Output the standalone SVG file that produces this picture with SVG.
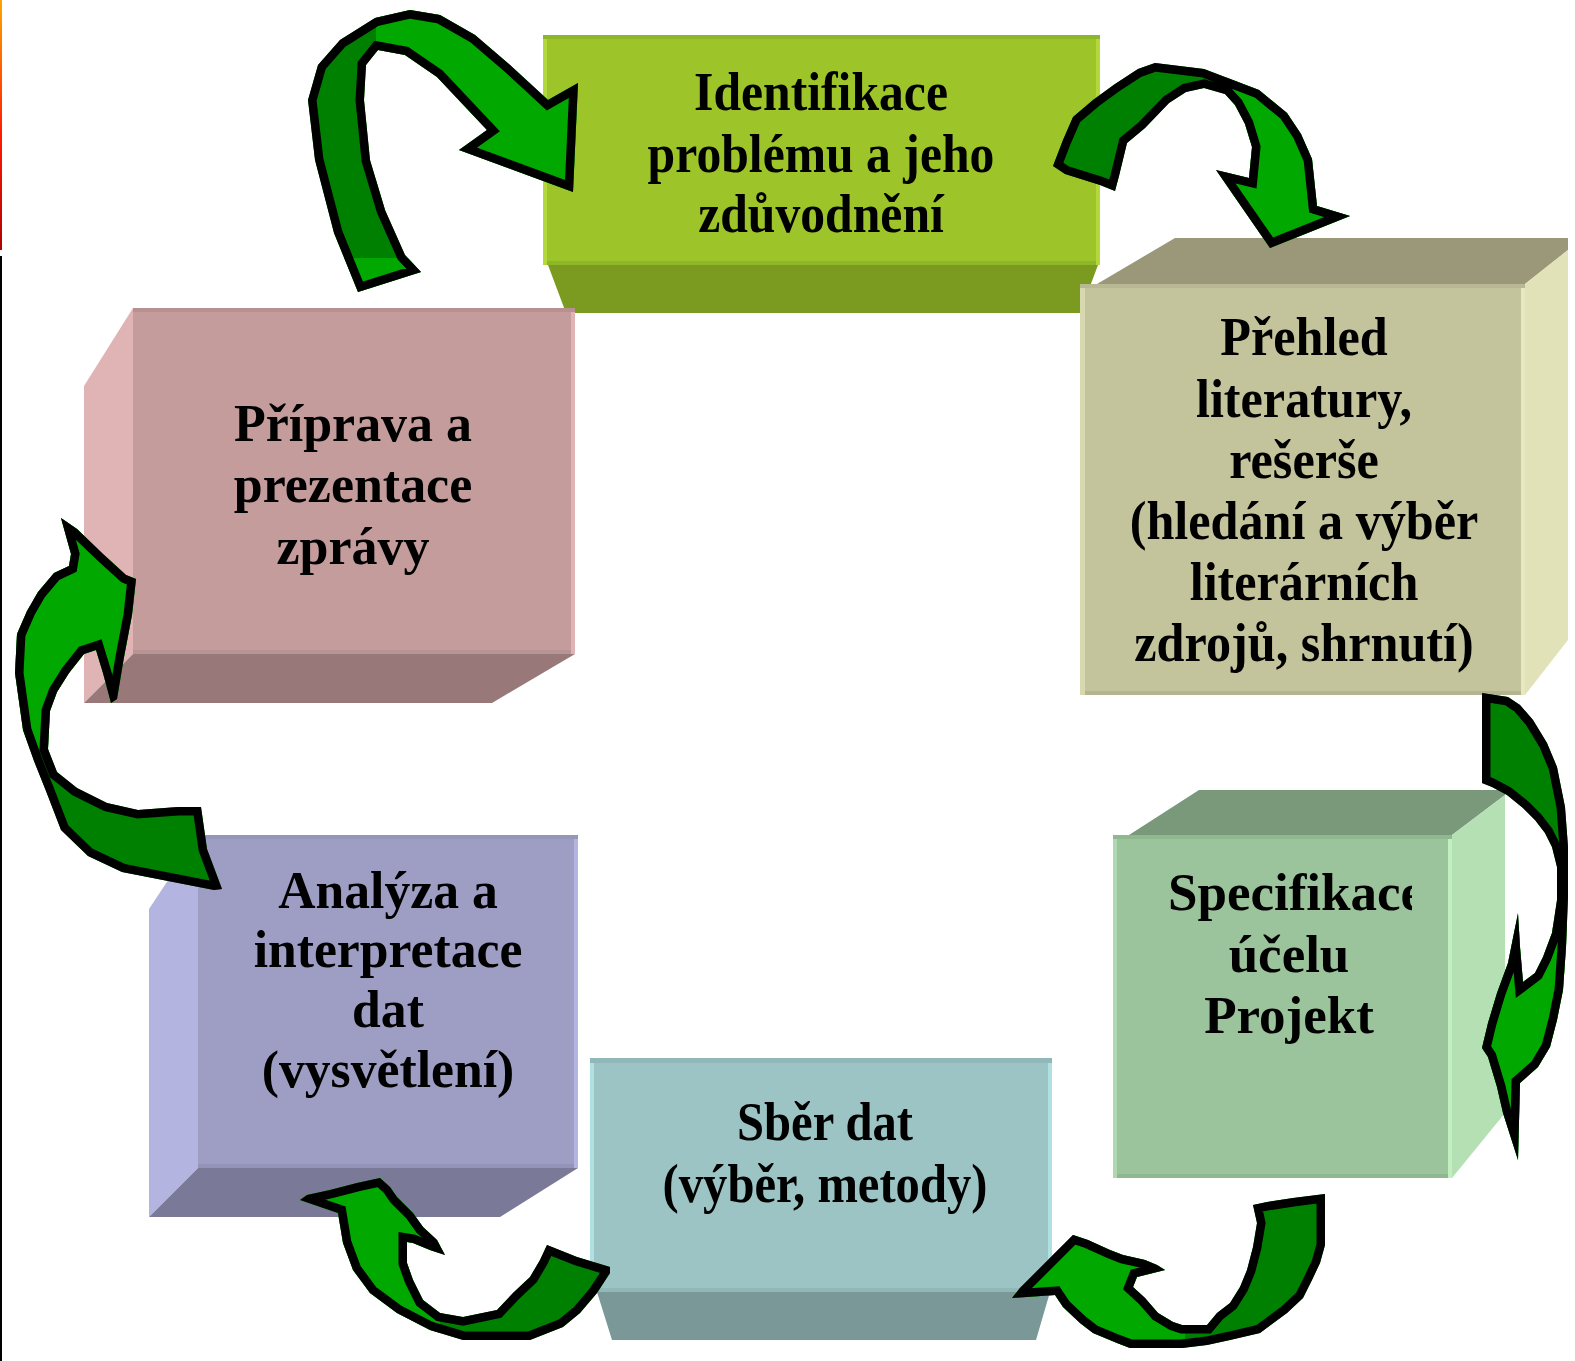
<svg xmlns="http://www.w3.org/2000/svg" xmlns:xlink="http://www.w3.org/1999/xlink" width="1575" height="1361" viewBox="0 0 1575 1361">
<style>
.t{font-family:"Liberation Serif","DejaVu Serif",serif;font-weight:bold;fill:#000;text-anchor:middle}
.dk{fill:#008000}
.lt{fill:#00a800}
.ol{fill:none;stroke:#000;stroke-width:17;stroke-linejoin:miter}
</style>
<defs>
<linearGradient id="edge" x1="0" y1="0" x2="0" y2="1">
<stop offset="0" stop-color="#ffa500"/>
<stop offset="0.55" stop-color="#ff1a00"/>
<stop offset="1" stop-color="#b00000"/>
</linearGradient>
<path id="pA" d="M358,292 L334,233 L315,160 L308,100 L318,65 L340,40 L375,18 L410,10 L440,15 L475,35 L510,65 L548,100 L578,83 L573,192 L459,150 L487,130 L437,77 L405,55 L378,50 L366,65 L364,100 L370,160 L385,210 L405,255 L421,272 Z"/>
<path id="pB" d="M1053,166 L1063,140 L1073,117 L1093,100 L1115,84 L1138,69 L1155,63 L1204,69 L1225,77 L1259,90 L1287,113 L1301,134 L1312,159 L1317,206 L1350,216 L1270,248 L1216,170 L1249,178 L1252,147 L1245,124 L1235,105 L1225,94 L1204,88 L1186,92 L1169,103 L1145,128 L1127,143 L1119,176 L1115,191 L1100,185 L1065,174 Z"/>
<path id="pC" d="M1482,693 L1508,697 L1520,705 L1533,720 L1547,743 L1557,767 L1565,807 L1568,847 L1568,897 L1566,947 L1563,990 L1557,1020 L1550,1047 L1538,1067 L1520,1083 L1518,1160 L1503,1113 L1497,1087 L1488,1057 L1482,1048 L1488,1023 L1497,993 L1508,963 L1518,913 L1520,947 L1523,982 L1535,973 L1543,957 L1552,933 L1557,900 L1557,867 L1552,847 L1545,833 L1535,820 L1523,808 L1507,795 L1492,787 L1482,783 Z"/>
<path id="pD" d="M1325,1194 L1325,1245 L1320,1263 L1312,1280 L1303,1298 L1287,1313 L1260,1333 L1230,1340 L1207,1345 L1182,1348 L1130,1348 L1117,1343 L1093,1333 L1080,1323 L1063,1307 L1055,1295 L1012,1298 L1020,1288 L1040,1268 L1060,1248 L1073,1235 L1088,1240 L1110,1250 L1123,1255 L1145,1260 L1157,1265 L1165,1270 L1137,1277 L1133,1287 L1145,1298 L1158,1313 L1173,1322 L1182,1325 L1207,1325 L1217,1313 L1230,1303 L1240,1287 L1247,1270 L1253,1247 L1257,1223 L1253,1205 L1267,1202 L1293,1198 Z"/>
<path id="pE" d="M547,1245 L577,1257 L610,1267 L610,1273 L597,1293 L580,1313 L563,1327 L530,1340 L463,1340 L430,1330 L397,1313 L370,1293 L353,1270 L343,1243 L338,1213 L300,1200 L307,1195 L330,1190 L357,1183 L380,1178 L390,1187 L397,1197 L413,1213 L423,1227 L437,1240 L445,1255 L430,1250 L413,1243 L407,1242 L407,1263 L413,1280 L423,1300 L440,1313 L463,1317 L497,1310 L513,1293 L530,1277 L540,1260 Z"/>
<path id="pF" d="M178,807 L201,807 L207,849 L222,889 L214,890 L122,872 L88,856 L61,830 L46,791 L34,761 L23,730 L15,673 L17,634 L27,611 L38,592 L54,573 L69,566 L71,554 L61,518 L77,529 L103,554 L126,575 L136,579 L132,615 L124,657 L117,699 L111,703 L103,673 L96,650 L84,654 L69,673 L57,692 L50,711 L48,749 L57,772 L77,788 L107,803 L138,810 Z"/>
<clipPath id="sA"><use xlink:href="#pA"/></clipPath>
<clipPath id="sB"><use xlink:href="#pB"/></clipPath>
<clipPath id="sC"><use xlink:href="#pC"/></clipPath>
<clipPath id="sD"><use xlink:href="#pD"/></clipPath>
<clipPath id="sE"><use xlink:href="#pE"/></clipPath>
<clipPath id="sF"><use xlink:href="#pF"/></clipPath>
<clipPath id="lA"><rect x="376" y="0" width="220" height="210"/><rect x="300" y="258" width="140" height="60"/></clipPath>
<clipPath id="lB"><rect x="1225" y="0" width="150" height="260"/></clipPath>
<clipPath id="lC"><rect x="1470" y="925" width="110" height="250"/></clipPath>
<clipPath id="lD"><rect x="1000" y="1180" width="185" height="180"/></clipPath>
<clipPath id="lE"><rect x="290" y="1170" width="150" height="180"/></clipPath>
<clipPath id="lF"><rect x="0" y="500" width="150" height="250"/></clipPath>
<clipPath id="clipSpec"><rect x="1100" y="840" width="312" height="100"/></clipPath>
</defs>

<rect x="0" y="0" width="1575" height="1361" fill="#ffffff"/>
<rect x="0" y="0" width="2" height="250" fill="url(#edge)"/>
<rect x="0" y="256" width="2" height="1105" fill="#000000"/>

<g id="node-identifikace">
<polygon points="548,265 1098,265 1080,313 566,313" fill="#7a9a20"/>
<rect x="543" y="35" width="557" height="230" fill="#9dc428"/>
<rect x="543" y="35" width="557" height="4" fill="#8db628"/>
<rect x="543" y="39" width="4" height="226" fill="#b2d83c"/>
<rect x="1096" y="39" width="4" height="226" fill="#b2d83c"/>
<rect x="547" y="261" width="549" height="4" fill="#8db628"/>
<g class="t" font-size="54" transform="translate(821,0) scale(0.92,1)">
<text x="0" y="110">Identifikace</text>
<text x="0" y="172">problému a jeho</text>
<text x="0" y="232">zdůvodnění</text>
</g>
</g>

<g id="node-prehled">
<polygon points="1097,284 1175,238 1568,238 1568,250 1525,284" fill="#9a9878"/>
<polygon points="1525,284 1568,250 1568,640 1525,695" fill="#e2e2b8"/>
<rect x="1080" y="284" width="445" height="411" fill="#c4c49c"/>
<rect x="1080" y="284" width="445" height="4" fill="#b8b894"/>
<rect x="1080" y="288" width="5" height="407" fill="#d8d8b0"/>
<rect x="1521" y="288" width="4" height="407" fill="#e8e8c0"/>
<rect x="1085" y="691" width="436" height="4" fill="#b4b490"/>
<g class="t" font-size="54" transform="translate(1304,0) scale(0.93,1)">
<text x="0" y="355">Přehled</text>
<text x="0" y="417">literatury,</text>
<text x="0" y="478">rešerše</text>
<text x="0" y="539">(hledání a výběr</text>
<text x="0" y="600">literárních</text>
<text x="0" y="661">zdrojů, shrnutí)</text>
</g>
</g>

<g id="node-specifikace">
<polygon points="1129,835 1199,790 1505,790 1505,795 1452,835" fill="#7a987a"/>
<polygon points="1452,835 1505,795 1505,1113 1452,1178" fill="#b4e0b4"/>
<rect x="1113" y="835" width="339" height="343" fill="#9cc49c"/>
<rect x="1113" y="835" width="339" height="4" fill="#90b890"/>
<rect x="1113" y="839" width="4" height="339" fill="#b0d8b0"/>
<rect x="1448" y="839" width="4" height="339" fill="#c0f0c0"/>
<rect x="1117" y="1174" width="331" height="4" fill="#90b890"/>
<g class="t" font-size="53">
<text x="1168" y="910" style="text-anchor:start" clip-path="url(#clipSpec)">Specifikace</text>
<text x="1289" y="972">účelu</text>
<text x="1289" y="1033">Projekt</text>
</g>
</g>

<g id="node-sber">
<polygon points="597,1292 1050,1292 1036,1340 612,1340" fill="#7a9898"/>
<rect x="590" y="1058" width="462" height="234" fill="#9cc4c4"/>
<rect x="590" y="1058" width="462" height="5" fill="#90b8b8"/>
<rect x="590" y="1063" width="4" height="229" fill="#b0e0e0"/>
<rect x="1048" y="1063" width="4" height="229" fill="#b0e0e0"/>
<rect x="594" y="1288" width="454" height="4" fill="#90b8b8"/>
<g class="t" font-size="54" transform="translate(825,0) scale(0.9,1)">
<text x="0" y="1140">Sběr dat</text>
<text x="0" y="1202">(výběr, metody)</text>
</g>
</g>

<g id="node-analyza">
<polygon points="149,909 198,835 198,1168 149,1217" fill="#b4b4e0"/>
<polygon points="198,1168 578,1168 500,1217 149,1217" fill="#7a7a98"/>
<rect x="198" y="835" width="380" height="333" fill="#9e9ec4"/>
<rect x="198" y="835" width="380" height="4" fill="#9696b8"/>
<rect x="574" y="839" width="4" height="329" fill="#b4b4e0"/>
<rect x="198" y="1164" width="376" height="4" fill="#9494b8"/>
<g class="t" font-size="53" transform="translate(388,0) scale(0.975,1)">
<text x="0" y="908">Analýza a</text>
<text x="0" y="967">interpretace</text>
<text x="0" y="1027">dat</text>
<text x="0" y="1087">(vysvětlení)</text>
</g>
</g>

<g id="node-priprava">
<polygon points="84,386 133,308 133,654 84,703" fill="#e0b4b4"/>
<polygon points="133,654 575,654 492,703 84,703" fill="#987878"/>
<rect x="133" y="308" width="442" height="346" fill="#c49c9c"/>
<rect x="133" y="308" width="442" height="4" fill="#b89090"/>
<rect x="571" y="312" width="4" height="342" fill="#e0b4b4"/>
<rect x="133" y="650" width="438" height="4" fill="#b89494"/>
<g class="t" font-size="53" transform="translate(353,0) scale(0.98,1)">
<text x="0" y="441">Příprava a</text>
<text x="0" y="502">prezentace</text>
<text x="0" y="564">zprávy</text>
</g>
</g>

<g id="connectors">
<g id="arrow-priprava-identifikace">
<use xlink:href="#pA" class="dk"/>
<use xlink:href="#pA" class="lt" clip-path="url(#lA)"/>
<use xlink:href="#pA" class="ol" clip-path="url(#sA)"/>
</g>
<g id="arrow-identifikace-prehled">
<use xlink:href="#pB" class="dk"/>
<use xlink:href="#pB" class="lt" clip-path="url(#lB)"/>
<use xlink:href="#pB" class="ol" clip-path="url(#sB)"/>
</g>
<g id="arrow-prehled-specifikace">
<use xlink:href="#pC" class="dk"/>
<use xlink:href="#pC" class="lt" clip-path="url(#lC)"/>
<use xlink:href="#pC" class="ol" clip-path="url(#sC)"/>
</g>
<g id="arrow-specifikace-sber">
<use xlink:href="#pD" class="dk"/>
<use xlink:href="#pD" class="lt" clip-path="url(#lD)"/>
<use xlink:href="#pD" class="ol" clip-path="url(#sD)"/>
</g>
<g id="arrow-sber-analyza">
<use xlink:href="#pE" class="dk"/>
<use xlink:href="#pE" class="lt" clip-path="url(#lE)"/>
<use xlink:href="#pE" class="ol" clip-path="url(#sE)"/>
</g>
<g id="arrow-analyza-priprava">
<use xlink:href="#pF" class="dk"/>
<use xlink:href="#pF" class="lt" clip-path="url(#lF)"/>
<use xlink:href="#pF" class="ol" clip-path="url(#sF)"/>
</g>
</g>
</svg>
